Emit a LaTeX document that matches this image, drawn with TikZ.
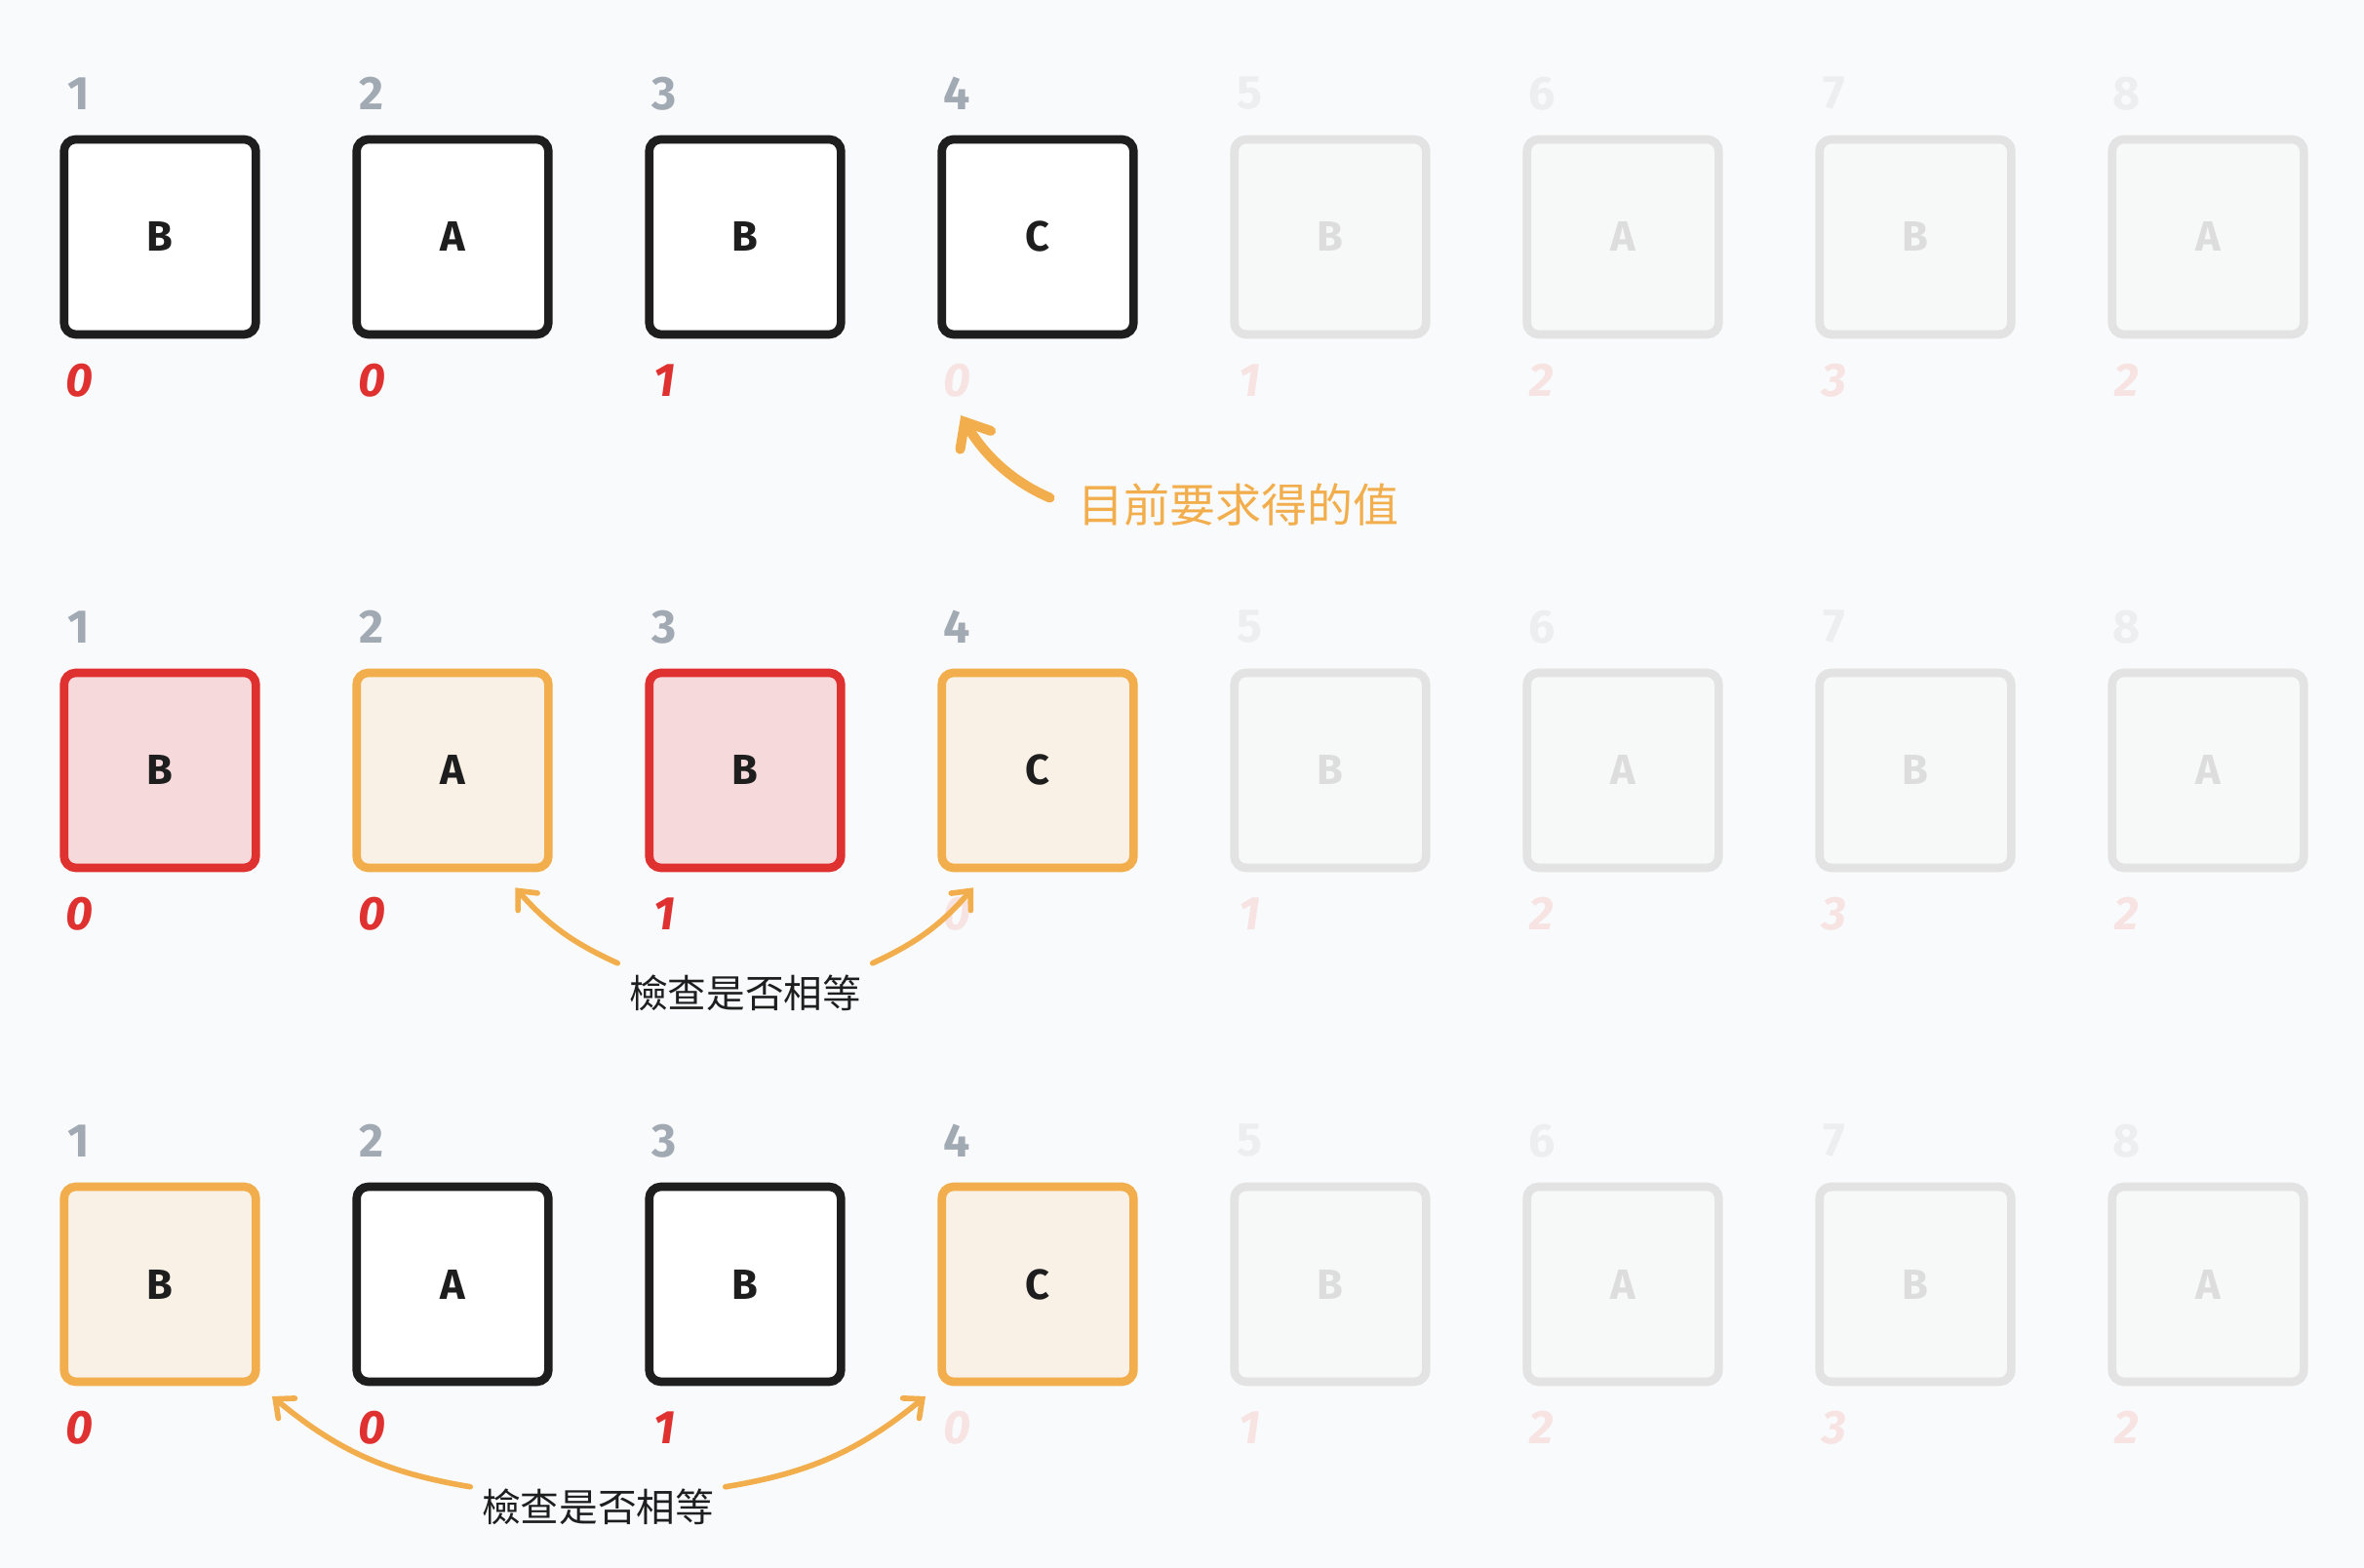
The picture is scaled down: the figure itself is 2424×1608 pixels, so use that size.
\documentclass[tikz,border=0pt]{standalone}
\usepackage{fontspec}
\setmainfont{Fira Sans}
\newfontfamily\cjkfont{Noto Sans CJK TC}
\usetikzlibrary{arrows.meta}
\definecolor{bgc}{HTML}{F9FAFB}
\definecolor{ink}{HTML}{1E1E1E}
\definecolor{idxgray}{HTML}{A1A9B3}
\definecolor{idxfade}{HTML}{EDEEF0}
\definecolor{valred}{HTML}{E03131}
\definecolor{valfade}{HTML}{F8E3E3}
\definecolor{redfill}{HTML}{F6D9DB}
\definecolor{orng}{HTML}{F2AE4C}
\definecolor{orngfill}{HTML}{FAF1E6}
\definecolor{fadeline}{HTML}{E3E3E3}
\definecolor{fadefill}{HTML}{F7F8F8}
\definecolor{fadetext}{HTML}{DDDDDD}
\begin{document}
\begin{tikzpicture}[x=0.3pt,y=0.3pt,
  cell/.style={draw=ink,fill=white,line width=2.6pt,rounded corners=3.6pt,minimum width=59pt,minimum height=60pt,text=ink,font=\fontsize{13}{15}\selectfont\bfseries},
  redcell/.style={draw=valred,fill=redfill},
  orangecell/.style={draw=orng,fill=orngfill},
  fadecell/.style={draw=fadeline,fill=fadefill,text=fadetext},
  idx/.style={text=idxgray,font=\fontsize{14.5}{16}\selectfont\bfseries},
  val/.style={text=valred,font=\fontsize{14.5}{16}\selectfont\bfseries\itshape},
  note/.style={text=ink,font=\cjkfont\fontsize{11.9}{14}\selectfont},
  pointer/.style={draw=orng,line width=1.7pt,line cap=round,-{Straight Barb[length=4.5pt,width=8pt,line cap=round]}},
  c-2-1/.style=redcell, c-2-2/.style=orangecell, c-2-3/.style=redcell, c-2-4/.style=orangecell,
  c-3-1/.style=orangecell, c-3-4/.style=orangecell]

\fill[bgc] (0,0) rectangle (2424,1608);

\foreach \y [count=\r] in {1365,818,291} % edit here for the rows
\foreach \ch/\vl [count=\c] in {B/0,A/0,B/1,C/0,B/1,A/2,B/3,A/2} % edit here for letters and values
{
  \ifnum\c>4
    \node[cell,fadecell] (b\r\c) at (300*\c-136,\y) {\ch};
    \node[idx,text=idxfade] (i\r\c) at (300*\c-219,\y+147) {\c};
  \else
    \node[cell,c-\r-\c/.try] (b\r\c) at (300*\c-136,\y) {\ch};
    \node[idx] (i\r\c) at (300*\c-219,\y+147) {\c};
  \fi
  \ifnum\c>3
    \node[val,text=valfade] (v\r\c) at (300*\c-219,\y-147) {\vl};
  \else
    \node[val] (v\r\c) at (300*\c-219,\y-147) {\vl};
  \fi
}

% the value asked for
\node[note,text=orng,font=\cjkfont\fontsize{14.1}{17}\selectfont,anchor=west] (goal) at (1094,1090) {目前要求得的值};
\draw[pointer,line width=3pt,-{Straight Barb[length=6.5pt,width=11pt,line cap=round]},shorten <=5.7pt,shorten >=2.5pt] (goal.west) to[bend left=18] (v14.south);

% the checks
\node[note] (chk2) at (764,590) {檢查是否相等};
\draw[pointer] (chk2.north west) to[bend left=12] ([shift={(-11.5pt,-4.8pt)}]b22.south east);
\draw[pointer] (chk2.north east) to[bend right=12] ([shift={(11pt,-4.8pt)}]b24.south west);
\node[note] (chk3) at (613,63) {檢查是否相等};
\draw[pointer] ([yshift=-3pt]chk3.north west) to[bend left=15] ([shift={(3.7pt,-3.2pt)}]b31.south east);
\draw[pointer] ([yshift=-3pt]chk3.north east) to[bend right=15] ([shift={(-3.7pt,-3.2pt)}]b34.south west);
\end{tikzpicture}
\end{document}
